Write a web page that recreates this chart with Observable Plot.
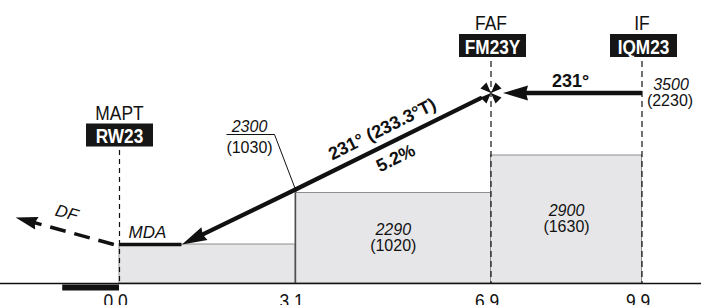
<!DOCTYPE html>
<html><head><meta charset="utf-8">
<script src="https://cdn.jsdelivr.net/npm/d3@7"></script>
<script src="https://cdn.jsdelivr.net/npm/@observablehq/plot@0.6"></script>
<style>
html,body{margin:0;padding:0;background:#fff;}
#chart{width:701px;height:305px;overflow:hidden;}
svg{display:block;}
</style></head><body><div id="chart"></div>
<script>
const fixNames  = ["MAPT", "FAF", "IF"];
const fixIdents = ["RW23", "FM23Y", "IQM23"];
const fixDist   = [0.0, 6.9, 9.9];          // NM from MAPT
const distTicks = [0.0, 3.1, 6.9, 9.9];
const tdze = 1270;                           // ground / threshold elevation
const mda = 1700;                            // estimated (not labelled)
const stepStart = [0.0, 3.1, 6.9];
const stepEnd   = [3.1, 6.9, 9.9];
const stepAlt   = [mda, 2290, 2900];
const stepHat   = [null, 1020, 1630];
const ifAlt = 3500, ifHat = 2230;
const pathDist = [6.9, 3.1, 1.1];            // final descent path
const pathAlt  = [3500, 2300, mda];
const stepdownAlt = 2300, stepdownHat = 1030;
const dfDist = [-0.1, -1.83];
const dfAlt  = [mda, 2010];
const runway = [-1.0, 0.0];
const inboundCourse = "231°";
const finalCourse = "231° (233.3°T)";
const gradient = "5.2%";

// ---------- scales (profile is not drawn to scale: piecewise transform) ----------
const xKnots = [0, 3.1, 6.9, 9.9], xPos = [119, 295, 490.5, 641.5];
const yKnots = [tdze, mda, 2290, 2300, 2900, 3500], yPos = [283, 244, 192.5, 189, 155, 92.5];
const xs = d3.scaleLinear(xKnots, xPos), ys = d3.scaleLinear(yKnots, yPos);

const fixes = fixNames.map((name, i) => ({name, ident: fixIdents[i], d: fixDist[i]}));
const mapt = fixes.slice(0, 1), upper = fixes.slice(1);
const steps = stepStart.map((d, i) => ({d1: d, d2: stepEnd[i], alt: stepAlt[i], hat: stepHat[i]}));
const labelled = steps.filter(s => s.hat != null);
const path = pathDist.map((d, i) => [d, pathAlt[i]]);
const segs = d3.pairs(path);
const faf = [fixDist[1], ifAlt];
const dfStart = [dfDist[0], dfAlt[0]], dfEnd = [dfDist[1], dfAlt[1]];

function px(p) { return [xs(p[0]), ys(p[1])]; }
function dir(p, q) { const a = px(p), b = px(q); const l = Math.hypot(b[0]-a[0], b[1]-a[1]); return [(b[0]-a[0])/l, (b[1]-a[1])/l]; }
function midData(p, q) { const a = px(p), b = px(q); return [xs.invert((a[0]+b[0])/2), ys.invert((a[1]+b[1])/2)]; }
function angle(p, q) { const a = px(p), b = px(q); return Math.atan2(b[1]-a[1], b[0]-a[0]) * 180 / Math.PI; }
const boxMid = s => ys.invert((ys(tdze) + ys(s.alt)) / 2);

function head(u, len, hw, gap, notch = 2) {
  const [ux, uy] = u;
  return {draw(c) {
    const tx = -gap*ux, ty = -gap*uy, bx = tx - len*ux, by = ty - len*uy, nx = -uy, ny = ux;
    c.moveTo(tx, ty);
    c.lineTo(bx + hw*nx, by + hw*ny);
    c.lineTo(tx - (len-notch)*ux, ty - (len-notch)*uy);
    c.lineTo(bx - hw*nx, by - hw*ny);
    c.closePath();
  }};
}
const cross = {draw(c) {
  const R = 11.5, a = 0.38;
  for (const t of [45, 135, 225, 315]) {
    const r = t * Math.PI / 180;
    c.moveTo(0, 0);
    c.lineTo(R*Math.cos(r-a), R*Math.sin(r-a));
    c.lineTo(R*Math.cos(r+a), R*Math.sin(r+a));
    c.closePath();
  }
}};
const labelBox = {draw(c) { c.moveTo(-33.5,-11.5); c.lineTo(33.5,-11.5); c.lineTo(33.5,11.5); c.lineTo(-33.5,11.5); c.closePath(); }};
const leader = {draw(c) { c.moveTo(0,0); c.lineTo(-21,-55); c.lineTo(-69,-55); }};

const ink = "#111";
const gpMid = midData(path[0], path[1]);
const gpAngle = angle(path[1], path[0]);
const dfMid = midData(dfStart, dfEnd);
const dfAngle = angle(dfEnd, dfStart);
const P = d => d[0], Q = d => d[1];

const plot = Plot.plot({
  width: 701, height: 305, margin: 0,
  x: {type: "linear", domain: [0, 701], range: [0, 701], transform: xs, axis: null},
  y: {type: "linear", domain: [0, 305], range: [0, 305], transform: ys, axis: null},
  style: {fontFamily: '"Liberation Sans", Arial, Helvetica, sans-serif', background: "white", color: ink},
  marks: [
    Plot.rect(steps, {x1: "d1", x2: "d2", y1: () => tdze, y2: "alt", fill: "#e6e6e8", stroke: "#8e8e8e", strokeWidth: 1}),
    Plot.ruleX([stepStart[1]], {y1: () => tdze, y2: () => stepAlt[1], stroke: "#4d4d4d", strokeWidth: 1.4}),
    Plot.ruleX(mapt, {x: "d", insetTop: 150, insetBottom: 22, stroke: ink, strokeWidth: 1.2, strokeDasharray: "5,4"}),
    Plot.ruleX(upper, {x: "d", insetTop: 61, insetBottom: 22, stroke: ink, strokeWidth: 1.2, strokeDasharray: "6,4"}),
    Plot.ruleY([tdze], {stroke: ink, strokeWidth: 1.3}),
    Plot.ruleY([tdze], {x1: () => runway[0], x2: () => runway[1], stroke: ink, strokeWidth: 6, dy: 4}),
    // inbound IF -> FAF
    Plot.arrow([ifAlt], {x1: () => fixDist[2], y1: d => d, x2: () => fixDist[1], y2: d => d, insetEnd: 31, headLength: 0, stroke: ink, strokeWidth: 4.3, strokeLinecap: "butt"}),
    // final descent
    Plot.arrow([segs[0]], {x1: s => s[0][0], y1: s => s[0][1], x2: s => s[1][0], y2: s => s[1][1], insetStart: 12, headLength: 0, stroke: ink, strokeWidth: 4.2}),
    Plot.arrow([segs[1]], {x1: s => s[0][0], y1: s => s[0][1], x2: s => s[1][0], y2: s => s[1][1], insetEnd: 18, headLength: 0, stroke: ink, strokeWidth: 4.2}),
    Plot.ruleY([mda], {x1: () => fixDist[0], x2: () => pathDist[2], stroke: ink, strokeWidth: 3.5}),
    // missed approach DF
    Plot.arrow([0], {x1: () => dfStart[0], y1: () => dfStart[1], x2: () => dfEnd[0], y2: () => dfEnd[1], insetEnd: 16, headLength: 0, stroke: ink, strokeWidth: 3.5, strokeDasharray: "16,9", strokeLinecap: "butt"}),
    // arrow heads & FAF symbol
    Plot.dot([faf], {x: P, y: Q, symbol: head(dir([fixDist[2], ifAlt], faf), 25, 7.5, 12), r: 5, fill: ink, stroke: "none"}),
    Plot.dot([path[2]], {x: P, y: Q, symbol: head(dir(path[1], path[2]), 25, 7, 0), r: 5, fill: ink, stroke: "none"}),
    Plot.dot([dfEnd], {x: P, y: Q, symbol: head(dir(dfStart, dfEnd), 22, 6.5, 0), r: 5, fill: ink, stroke: "none"}),
    Plot.dot([faf], {x: P, y: Q, symbol: cross, r: 5, fill: ink, stroke: "none"}),
    Plot.dot([[stepStart[1], stepdownAlt]], {x: P, y: Q, symbol: leader, r: 5, fill: "none", stroke: ink, strokeWidth: 1}),
    // fix labels
    Plot.text(upper, {x: "d", text: "name", frameAnchor: "top", dy: 29, lineAnchor: "bottom", fontSize: 20, fill: ink}),
    Plot.text(mapt, {x: "d", text: "name", frameAnchor: "top", dy: 119, lineAnchor: "bottom", fontSize: 20, fill: ink}),
    Plot.dot(upper, {x: "d", frameAnchor: "top", dy: 45, dx: 1.5, symbol: labelBox, r: 5, fill: "#161616", stroke: "none"}),
    Plot.dot(mapt, {x: "d", frameAnchor: "top", dy: 134.5, symbol: labelBox, r: 5, fill: "#161616", stroke: "none"}),
    Plot.text(upper, {x: "d", text: "ident", frameAnchor: "top", dy: 53, dx: 1.5, lineAnchor: "bottom", fontSize: 20, fontWeight: "bold", fill: "white"}),
    Plot.text(mapt, {x: "d", text: "ident", frameAnchor: "top", dy: 142, lineAnchor: "bottom", fontSize: 20, fontWeight: "bold", fill: "white"}),
    // distance labels
    Plot.text(distTicks, {x: d => d, y: () => tdze, text: d => d3.format(".1f")(d), dx: -4, dy: 24, lineAnchor: "bottom", fontSize: 20, fill: ink}),
    // altitudes
    Plot.text([inboundCourse], {x: () => (fixDist[1] + fixDist[2]) / 2, y: () => ifAlt, text: d => d, dx: 4, dy: -6, lineAnchor: "bottom", fontSize: 18, fontWeight: "bold", fill: ink}),
    Plot.text([ifAlt], {x: () => fixDist[2], y: d => d, text: d => String(d), dx: 29, dy: -3, lineAnchor: "bottom", fontSize: 16, fontStyle: "italic", fill: ink}),
    Plot.text([ifHat], {x: () => fixDist[2], y: () => ifAlt, text: d => `(${d})`, dx: 28, dy: 13, lineAnchor: "bottom", fontSize: 16, fill: ink}),
    Plot.text([stepdownAlt], {x: () => stepStart[1], y: d => d, text: d => String(d), dx: -46, dy: -57.5, lineAnchor: "bottom", fontSize: 16, fontStyle: "italic", fill: ink}),
    Plot.text([stepdownHat], {x: () => stepStart[1], y: () => stepdownAlt, text: d => `(${d})`, dx: -46, dy: -37, lineAnchor: "bottom", fontSize: 16, fill: ink}),
    Plot.text(labelled, {x: s => (s.d1 + s.d2) / 2, y: boxMid, text: s => String(s.alt), dy: -3.5, lineAnchor: "bottom", fontSize: 16, fontStyle: "italic", fill: ink}),
    Plot.text(labelled, {x: s => (s.d1 + s.d2) / 2, y: boxMid, text: s => `(${s.hat})`, dy: 12.5, lineAnchor: "bottom", fontSize: 16, fill: ink}),
    Plot.text(["MDA"], {x: () => fixDist[0], y: () => mda, text: d => d, textAnchor: "start", dx: 9, dy: -7, lineAnchor: "bottom", fontSize: 17, fontStyle: "italic", fill: ink}),
    Plot.text(["DF"], {x: () => dfMid[0], y: () => dfMid[1], text: d => d, rotate: dfAngle, dx: 2, dy: -18, lineAnchor: "middle", fontSize: 17, fontStyle: "italic", fill: ink}),
    Plot.text([finalCourse], {x: () => gpMid[0], y: () => gpMid[1], text: d => d, rotate: gpAngle, dx: -11, dy: -12, lineAnchor: "middle", fontSize: 18, fontWeight: "bold", fill: ink}),
    Plot.text([gradient], {x: () => gpMid[0], y: () => gpMid[1], text: d => d, rotate: gpAngle, dx: 2.5, dy: 17, lineAnchor: "middle", fontSize: 18, fontWeight: "bold", fill: ink})
  ]
});
document.getElementById("chart").append(plot);
// condensed lettering for the large 20px labels
plot.querySelectorAll("text").forEach(t => {
  const cs = getComputedStyle(t);
  if (cs.fontSize !== "20px") return;
  const bold = cs.fontWeight === "700" || cs.fontWeight === "bold";
  const L = t.getComputedTextLength();
  t.setAttribute("textLength", (L * (bold ? 0.86 : 0.87)).toFixed(1));
  t.setAttribute("lengthAdjust", "spacingAndGlyphs");
});
</script></body></html>
